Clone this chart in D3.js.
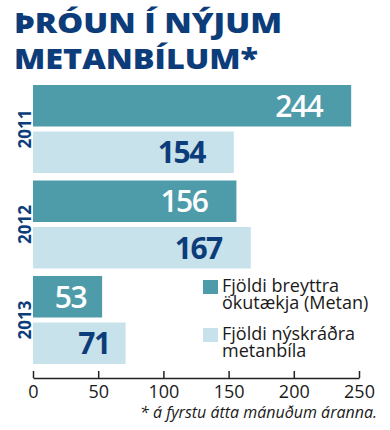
<!DOCTYPE html>
<html>
<head>
<meta charset="utf-8">
<script src="https://cdn.jsdelivr.net/npm/d3@7"></script>
<style>
  body { margin: 0; background: #fff; }
  svg { display: block; }
</style>
</head>
<body>
<div id="chart"></div>
<script>
// values
var years = ["2011", "2012", "2013"];
var breyttra = [244, 156, 53];   // Fjöldi breyttra ökutækja (Metan)
var nyskradra = [154, 167, 71];  // Fjöldi nýskráðra metanbíla
var tickValues = [0, 50, 100, 150, 200, 250];
var legendLines = [
    ["Fjöldi breyttra", "ökutækja (Metan)"],
    ["Fjöldi nýskráðra", "metanbíla"]
];

var navy = "#0d3c7a",
    dark = "#4e9caa",
    light = "#c8e2eb";

var width = 390, height = 430;

var svg = d3.select("#chart").append("svg")
    .attr("width", width)
    .attr("height", height);

// title
svg.append("text")
    .attr("x", 14).attr("y", 33)
    .attr("fill", navy)
    .style("font", "800 29px 'Open Sans', sans-serif")
    .attr("textLength", 268).attr("lengthAdjust", "spacingAndGlyphs")
    .text("ÞRÓUN Í NÝJUM");
svg.append("text")
    .attr("x", 14).attr("y", 69)
    .attr("fill", navy)
    .style("font", "800 29px 'Open Sans', sans-serif")
    .attr("textLength", 244).attr("lengthAdjust", "spacingAndGlyphs")
    .text("METANBÍLUM*");

// scales
var x = d3.scaleLinear().domain([0, 250]).range([33, 359]);
var y = d3.scaleBand().domain(years).range([85, 364]).paddingInner(0.0785);
var sub = d3.scaleBand().domain(["b", "n"]).range([0, y.bandwidth()]).paddingInner(0.1075);

var rows = years.map(function (yr, i) {
    return { year: yr, b: breyttra[i], n: nyskradra[i] };
});

var group = svg.selectAll(".year")
    .data(rows)
    .enter().append("g")
    .attr("class", "year")
    .attr("transform", function (d) { return "translate(0," + y(d.year) + ")"; });

["b", "n"].forEach(function (key) {
    group.append("rect")
        .attr("x", x(0))
        .attr("y", sub(key))
        .attr("width", function (d) { return x(d[key]) - x(0); })
        .attr("height", sub.bandwidth())
        .attr("fill", key === "b" ? dark : light);

    group.append("text")
        .attr("x", function (d) {
            var w = x(d[key]) - x(0);
            return x(d[key]) - (w < 100 ? 16 : 29);
        })
        .attr("y", sub(key) + sub.bandwidth() / 2 + 11)
        .attr("text-anchor", "end")
        .attr("fill", key === "b" ? "#fff" : navy)
        .style("font", (key === "b" ? "600" : "700") + " 30px 'Open Sans', sans-serif")
        .style("letter-spacing", "-1.5px")
        .text(function (d) { return d[key]; });
});

// year labels, rotated
group.append("text")
    .attr("transform", "translate(31," + (y.bandwidth() / 2) + ") rotate(-90)")
    .attr("text-anchor", "middle")
    .attr("fill", navy)
    .style("font", "700 17px 'Open Sans', sans-serif")
    .text(function (d) { return d.year; });

// axis
var axis = svg.append("g")
    .attr("transform", "translate(0,378)")
    .call(d3.axisBottom(x)
        .tickValues(tickValues)
        .tickSizeInner(-7)
        .tickSizeOuter(0)
        .tickPadding(7));
axis.select(".domain").attr("stroke", "#222").attr("stroke-width", 1.5);
axis.selectAll(".tick line").attr("stroke", "#222").attr("stroke-width", 1.5);
axis.selectAll(".tick text")
    .attr("fill", "#1a1a1a")
    .style("font", "400 18px 'Open Sans', sans-serif");

// legend
var legend = svg.selectAll(".legend")
    .data(legendLines)
    .enter().append("g")
    .attr("class", "legend")
    .attr("transform", function (d, i) { return "translate(203," + (280 + i * 48) + ")"; });
legend.append("rect")
    .attr("width", 15).attr("height", 14)
    .attr("fill", function (d, i) { return i === 0 ? dark : light; });
legend.selectAll("text")
    .data(function (d) { return d; })
    .enter().append("text")
    .attr("x", 19)
    .attr("y", function (d, i) { return 12 + i * 16.5; })
    .attr("fill", "#1a1a1a")
    .style("font", "400 18px 'Open Sans', sans-serif")
    .text(function (d) { return d; });

// footnote
svg.append("text")
    .attr("x", 377).attr("y", 418)
    .attr("text-anchor", "end")
    .attr("fill", "#1a1a1a")
    .style("font", "italic 400 16px 'Open Sans', sans-serif")
    .text("* á fyrstu átta mánuðum áranna.");
</script>
</body>
</html>
